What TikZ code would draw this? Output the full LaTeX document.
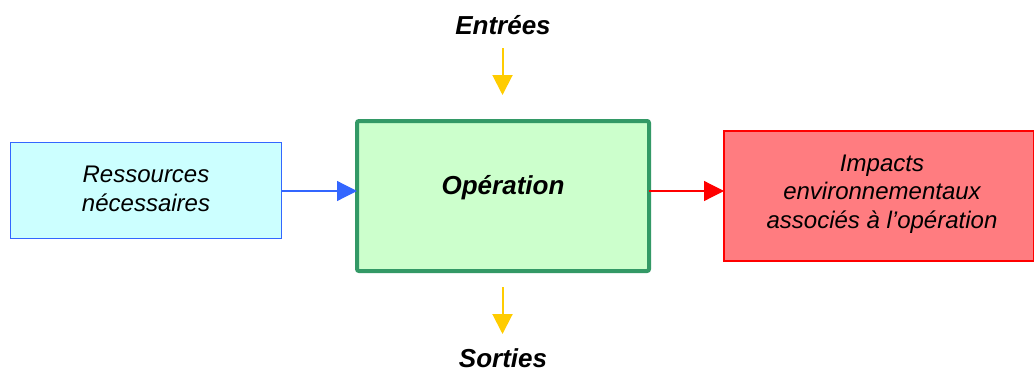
\documentclass[tikz,border=0pt]{standalone}
\usepackage{fontspec}
\setmainfont{Liberation Sans}
\usetikzlibrary{arrows.meta}

\definecolor{resfill}{HTML}{CCFFFF}
\definecolor{resdraw}{HTML}{3366FF}
\definecolor{opfill}{HTML}{CCFFCC}
\definecolor{opdraw}{HTML}{339966}
\definecolor{impfill}{HTML}{FF7C80}
\definecolor{impdraw}{HTML}{FF0000}
\definecolor{flowyellow}{HTML}{FFCC00}

\tikzset{
  box/.style={rectangle, inner sep=0pt, outer sep=0pt},
  itlabel/.style={font=\fontsize{24}{28.3}\selectfont\itshape, align=center, inner sep=0pt},
  bflabel/.style={font=\fontsize{26}{30}\selectfont\bfseries\itshape, inner sep=0pt},
  flow/.style={line width=1.2pt, -{Triangle[length=20pt,width=20pt]}},
  ioflow/.style={draw=flowyellow, line width=2pt, -{Triangle[length=20pt,width=20pt]}}
}

\begin{document}
\begin{tikzpicture}[x=1pt,y=-1pt]
  \useasboundingbox (0,0) rectangle (1035,372);

  % the three boxes
  \node[box, draw=resdraw, fill=resfill, line width=1.8pt,
        minimum width=271pt, minimum height=96pt] (res) at (146,190.5) {};
  \node[box, draw=opdraw, fill=opfill, line width=4pt, rounded corners=2pt,
        minimum width=292pt, minimum height=150pt] (op) at (503,196) {};
  \node[box, draw=impdraw, fill=impfill, line width=1.8pt,
        minimum width=309.5pt, minimum height=130pt] (imp) at (878.75,196) {};

  % box captions
  \node[itlabel] (restext) at (146,189) {Ressources\\nécessaires};
  \node[bflabel] (optext) at (503,188) {Opération};
  \node[itlabel] (imptext) at (882,194) {Impacts\\environnementaux\\associés à l’opération};

  % inputs and outputs
  \node[bflabel] (in) at (503,25.5) {Entrées};
  \node[bflabel] (out) at (503,358.5) {Sorties};
  \coordinate (inA) at (502.5,48);
  \coordinate (inB) at (502.5,95);
  \coordinate (outA) at (502.5,287);
  \coordinate (outB) at (502.5,334);

  % connectors
  \draw[flow, draw=resdraw, fill=resdraw] (res.east |- 0,191) -- (op.west |- 0,191);
  \draw[flow, draw=impdraw, fill=impdraw] (op.east |- 0,191) -- (imp.west |- 0,191);
  \draw[ioflow] (inA) -- (inB);
  \draw[ioflow] (outA) -- (outB);
\end{tikzpicture}
\end{document}
